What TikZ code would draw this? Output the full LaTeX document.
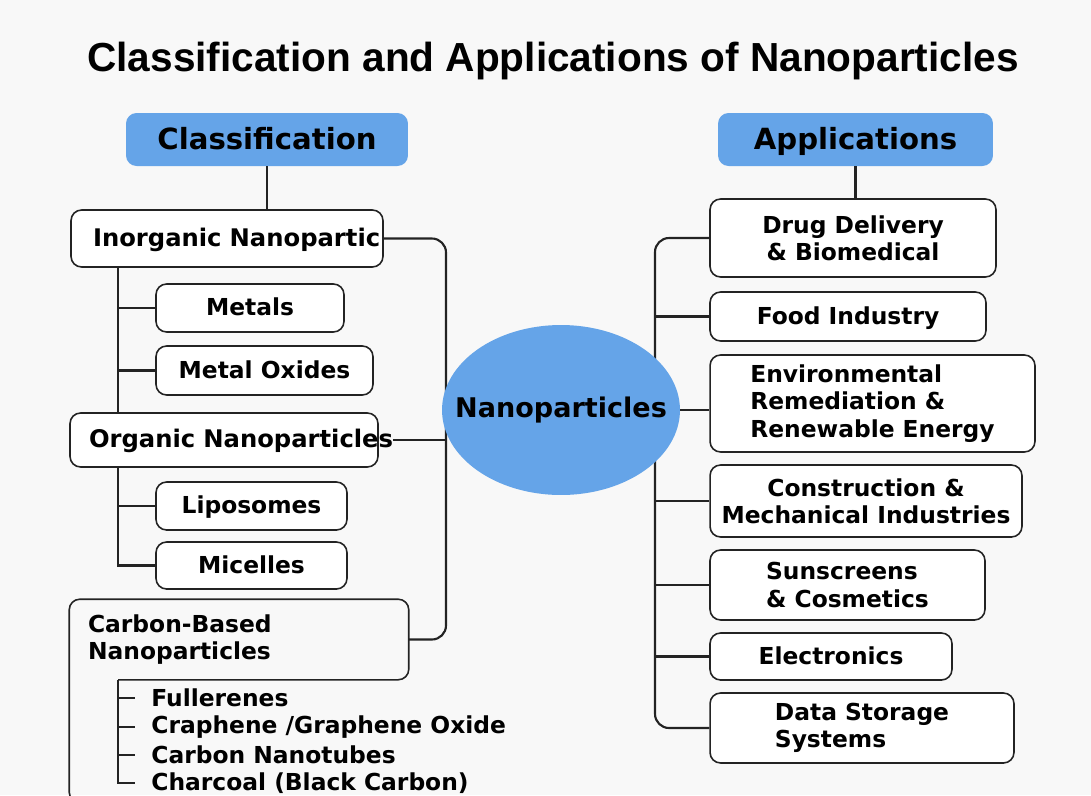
\documentclass[tikz,border=0pt]{standalone}
\usepackage{fontspec}
\setmainfont{DejaVu Sans}
\newfontfamily\titlefamily{Liberation Sans}
\usetikzlibrary{shapes.geometric}
\definecolor{headblue}{RGB}{101,164,232}
\definecolor{paper}{RGB}{248,248,248}
\definecolor{ink}{RGB}{35,35,35}
\tikzset{
	box/.style={draw=ink, line width=0.9pt, fill=white, rounded corners=6pt, inner sep=0pt, align=center, font=\fontsize{13.3}{15.5}\selectfont\bfseries},
	oneline/.style={text height=9.7pt, text depth=1pt},
	head/.style={fill=headblue, rounded corners=6pt, inner sep=0pt, text height=12pt, text depth=1pt, font=\fontsize{16.6}{19}\selectfont\bfseries},
	hub/.style={ellipse, fill=headblue, inner xsep=-0.45cm, inner ysep=0pt, minimum width=4.76cm, minimum height=3.4cm, font=\fontsize{15.4}{18}\selectfont\bfseries},
	item/.style={anchor=west, inner ysep=0pt, inner xsep=0.32cm, font=\fontsize{13.3}{15.5}\selectfont\bfseries},
	link/.style={draw=ink, line width=1.2pt},
}
\begin{document}
\begin{tikzpicture}[x=0.02cm, y=-0.02cm]
	\fill[paper] (0,0) rectangle (1091,795);
	\useasboundingbox (0,0) rectangle (1091,795);
	\node[anchor=base, font={\titlefamily\fontsize{23.1}{27}\selectfont\bfseries}] (title) at (553,71) {Classification and Applications of Nanoparticles};

	% classification side
	\node[head, minimum width=5.64cm, minimum height=1.06cm] (class) at (267,139.5) {Classification};
	\node[box, oneline, minimum width=6.24cm, minimum height=1.14cm, text width=5.36cm, inner xsep=0.44cm, align=left, font=\fontsize{13.8}{16}\selectfont\bfseries] (inorg) at (227,238.5) {\mbox{Inorganic Nanopartic}};
	\node[box, oneline, minimum width=3.76cm, minimum height=0.96cm] (metals) at (250,308) {Metals};
	\node[box, oneline, minimum width=4.34cm, minimum height=0.98cm] (oxides) at (264.5,370.5) {Metal Oxides};
	\node[box, oneline, minimum width=6.16cm, minimum height=1.08cm, text width=5.4cm, inner xsep=0.38cm, align=left, font=\fontsize{13.8}{16}\selectfont\bfseries] (organic) at (224,440) {\mbox{Organic Nanoparticles}};
	\node[box, oneline, minimum width=3.82cm, minimum height=0.96cm] (lipo) at (251.5,506) {Liposomes};
	\node[box, oneline, minimum width=3.82cm, minimum height=0.94cm] (mic) at (251.5,565.5) {Micelles};
	\node[box, draw=none, fill=none, minimum width=6.76cm, minimum height=1.58cm, text width=6.04cm, inner xsep=0.36cm, align=left] (carbon) at (239,639.5) {Carbon-Based\\Nanoparticles};
	\draw[draw=ink, line width=0.9pt, rounded corners=6pt] ([xshift=0.98cm]carbon.south west) -- (carbon.south east) -- (carbon.north east) -- (carbon.north west) -- ([yshift=-2.46cm]carbon.south west) -- ([xshift=3cm, yshift=-2.46cm]carbon.south west);
	\node[item] (fuller) at (135,698) {Fullerenes};
	\node[item] (graph) at (135,727) {Craphene /Graphene Oxide};
	\node[item] (cnt) at (135,755) {Carbon Nanotubes};
	\node[item] (charc) at (135,783) {Charcoal (Black Carbon)};

	% applications side
	\node[head, minimum width=5.5cm, minimum height=1.06cm] (app) at (855.5,139.5) {Applications};
	\node[box, minimum width=5.72cm, minimum height=1.56cm] (drug) at (853,238) {Drug Delivery\\ \& Biomedical};
	\node[box, oneline, minimum width=5.52cm, minimum height=0.98cm] (food) at (848,316.5) {Food Industry};
	\node[box, minimum width=6.5cm, minimum height=1.94cm, align=left] (env) at (872.5,403.5) {Environmental\\Remediation \&\\Renewable Energy};
	\node[box, minimum width=6.24cm, minimum height=1.44cm] (constr) at (866,501) {Construction \&\\Mechanical Industries};
	\node[box, minimum width=5.5cm, minimum height=1.4cm, align=left] (sun) at (847.5,585) {Sunscreens\\\& Cosmetics};
	\node[box, oneline, minimum width=4.84cm, minimum height=0.94cm] (elec) at (831,656.5) {Electronics};
	\node[box, minimum width=6.08cm, minimum height=1.4cm, align=left] (data) at (862,728) {Data Storage\\Systems};

	% tree lines
	\coordinate (ltrunk) at (118,267);
	\coordinate (lbus) at (446,440);
	\coordinate (ctree) at ([xshift=0.98cm]carbon.south west);
	\coordinate (rbus) at (655,480);
	\draw[link] (class) -- (class |- inorg.north);
	\draw[link] (ltrunk |- inorg.south) -- (ltrunk |- organic.north);
	\draw[link] (ltrunk |- metals) -- (metals.west);
	\draw[link] (ltrunk |- oxides) -- (oxides.west);
	\draw[link] (ltrunk |- organic.south) -- (ltrunk |- mic) -- (mic.west);
	\draw[link] (ltrunk |- lipo) -- (lipo.west);
	\draw[link, rounded corners=8pt] (inorg.east) -| (lbus) |- (carbon.east);
	\draw[link] ([xshift=0.28cm]organic.east) -- (lbus);
	\draw[link] (ctree) -- (ctree |- charc.west) -- (charc.west);
	\foreach \n in {fuller,graph,cnt}
		\draw[link] (ctree |- \n.west) -- (\n.west);
	\draw[link] (app) -- (app |- drug.north);
	\draw[link, rounded corners=8pt] (drug.west) -| (rbus) |- (data.west);
	\foreach \n in {food,constr,sun,elec}
		\draw[link] (rbus |- \n.west) -- (\n.west);

	\node[hub] (hub) at (561,410) {Nanoparticles};
	\draw[link] (hub.east) -- (hub.east -| env.west);
\end{tikzpicture}
\end{document}
